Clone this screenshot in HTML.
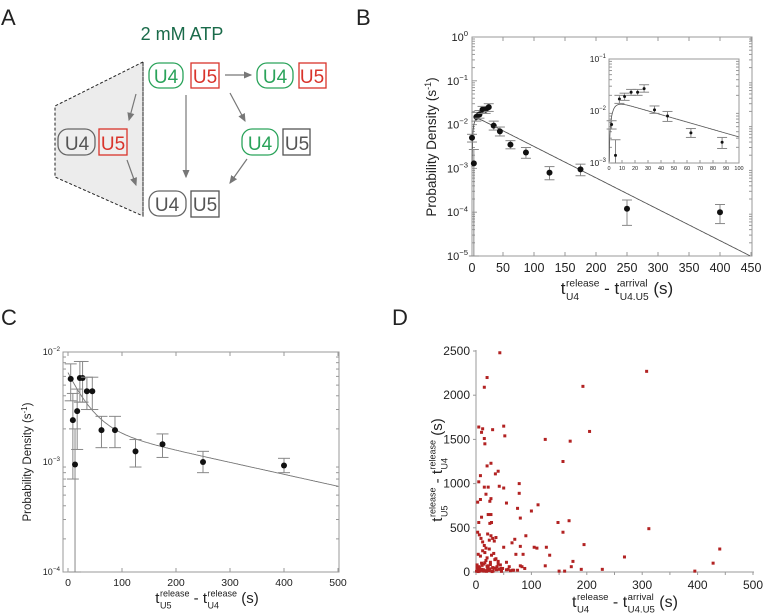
<!DOCTYPE html>
<html><head><meta charset="utf-8"><style>
html,body{margin:0;padding:0;background:#fff;}
svg{display:block;font-family:"Liberation Sans",Arial,sans-serif;}
</style></head><body>
<svg id="fig" width="764" height="613" viewBox="0 0 764 613" xmlns="http://www.w3.org/2000/svg">
<defs><marker id="ah" markerWidth="8" markerHeight="8" refX="6" refY="3" orient="auto"><path d="M0,0 L7,3 L0,6 z" fill="#777"/></marker></defs>
<text x="1" y="25" font-size="22" fill="#222">A</text>
<text x="356" y="25" font-size="22" fill="#222">B</text>
<text x="1" y="325" font-size="22" fill="#222">C</text>
<text x="392" y="325" font-size="22" fill="#222">D</text>
<g>
<text x="182" y="40" font-size="18" fill="#1a6b4a" text-anchor="middle">2 mM ATP</text>
<polygon points="143,62 55,106 55,177 143,216" fill="#ececec" stroke="#222" stroke-dasharray="3,2"/>
<line x1="143" y1="62" x2="143" y2="216" stroke="#222" stroke-dasharray="3,2"/>
<g font-size="19" text-anchor="middle">
<rect x="149" y="63" width="34" height="25" rx="10" fill="#fff" stroke="#2aa35a" stroke-width="1.3"/>
<text x="166" y="83" fill="#2aa35a">U4</text>
<rect x="191" y="63" width="28" height="25" fill="#fff" stroke="#d9342b" stroke-width="1.3"/>
<text x="205" y="83" fill="#d9342b">U5</text>
<rect x="257" y="63" width="36" height="25" rx="10" fill="#fff" stroke="#2aa35a" stroke-width="1.3"/>
<text x="275" y="83" fill="#2aa35a">U4</text>
<rect x="299" y="63" width="27" height="25" fill="#fff" stroke="#d9342b" stroke-width="1.3"/>
<text x="312" y="83" fill="#d9342b">U5</text>
<rect x="242" y="129" width="36" height="26" rx="10" fill="#fff" stroke="#2aa35a" stroke-width="1.3"/>
<text x="260" y="150" fill="#2aa35a">U4</text>
<rect x="283" y="129" width="27" height="26" fill="#fff" stroke="#555" stroke-width="1.3"/>
<text x="297" y="150" fill="#555">U5</text>
<rect x="58" y="129" width="37" height="26" rx="10" fill="#eee" stroke="#666" stroke-width="1.3"/>
<text x="77" y="150" fill="#555">U4</text>
<rect x="99" y="129" width="28" height="26" fill="#eee" stroke="#d9342b" stroke-width="1.3"/>
<text x="113" y="150" fill="#d9342b">U5</text>
<rect x="149" y="191" width="37" height="25" rx="10" fill="#fff" stroke="#666" stroke-width="1.3"/>
<text x="167" y="211" fill="#555">U4</text>
<rect x="191" y="191" width="28" height="26" fill="#fff" stroke="#555" stroke-width="1.3"/>
<text x="205" y="211" fill="#555">U5</text>
</g>
<g stroke="#777" stroke-width="1.2" marker-end="url(#ah)">
<line x1="225" y1="75" x2="251" y2="75"/>
<line x1="186" y1="95" x2="186" y2="177"/>
<line x1="230" y1="93" x2="245" y2="121"/>
<line x1="247" y1="159" x2="230" y2="183"/>
<line x1="136" y1="94" x2="129" y2="120"/>
<line x1="127" y1="160" x2="136" y2="185"/>
</g>
</g>
<g id="pb"></g>
<g id="pc"></g>
<g id="pd"></g>
</svg>
<script>
// ---- Panel B data ----
const bX = [0,3,7,12,17,22,27,35,45,62,87,125,175,250,400];
const bY = [5e-3,1.3e-3,1.5e-2,1.7e-2,2.2e-2,2.2e-2,2.5e-2,9.5e-3,7e-3,3.5e-3,2.3e-3,8e-4,9.5e-4,1.2e-4,1e-4];
const bLo = [4e-3,1e-5,1.2e-2,1.4e-2,1.8e-2,1.8e-2,2.0e-2,7.5e-3,5.5e-3,2.8e-3,1.7e-3,5.5e-4,6.8e-4,5e-5,5.5e-5];
const bHi = [6e-3,2.7e-3,1.9e-2,2.1e-2,2.6e-2,2.6e-2,3.0e-2,1.2e-2,8.8e-3,4.3e-3,3.0e-3,1.1e-3,1.25e-3,1.9e-4,1.5e-4];
const bXTicks = [0,50,100,150,200,250,300,350,400,450];
const bYTicks = [0,-1,-2,-3,-4,-5];
const bFit = [0.0165, 0.0165, 0.35];
const iX = [2,5,8,12,17,22,27,35,45,63,87];
const iY = [5.5e-3,1.4e-3,1.7e-2,1.9e-2,2.3e-2,2.3e-2,2.7e-2,1.05e-2,8e-3,3.8e-3,2.5e-3];
const iLo = [4.5e-3,1e-3,1.4e-2,1.6e-2,2.0e-2,2.0e-2,2.3e-2,9e-3,6.3e-3,3.1e-3,1.9e-3];
const iHi = [6.5e-3,2.8e-3,2.0e-2,2.2e-2,2.6e-2,2.6e-2,3.2e-2,1.25e-2,9.8e-3,4.6e-3,3.1e-3];
const iXTicks = [0,10,20,30,40,50,60,70,80,90,100];
// ---- Panel C data ----
const cX = [5,9,13,17,22,27,35,45,62,87,125,175,250,400];
const cY = [5.7e-3,2.4e-3,9.5e-4,2.9e-3,5.8e-3,5.8e-3,4.4e-3,4.4e-3,1.95e-3,1.95e-3,1.25e-3,1.45e-3,1e-3,9.3e-4];
const cLo = [3.6e-3,7e-4,1e-4,1.3e-3,3.5e-3,3.5e-3,3e-3,3e-3,1.35e-3,1.35e-3,9e-4,1.1e-3,8e-4,8e-4];
const cHi = [7.8e-3,4.2e-3,2e-3,4.6e-3,8.2e-3,8.2e-3,5.9e-3,5.9e-3,2.6e-3,2.6e-3,1.6e-3,1.8e-3,1.25e-3,1.08e-3];
const cXTicks = [0,100,200,300,400,500];
const cFit = [4.4e-3,32,2.1e-3,400];
// ---- Panel D data ----
const dX = [43,20,15,308,193,5,12,30,50,52,10,15,16,125,170,205,157,27,20,35,40,8,5,15,22,42,50,78,78,18,3,8,27,25,55,112,100,75,80,148,168,157,312,10,5,28,25,22,27,50,90,105,110,127,133,85,72,70,80,65,195,175,172,125,150,160,190,228,268,395,428,440,80,88,75,60,55,40,
 3,6,9,12,15,18,21,24,27,30,33,36,4,8,12,16,20,24,28,32,36,40,2,5,10,14,18,22,26,30,34,38,44,48,3,7,11,14,17,21,25,29,33,1,4,9,13,19,23,31,37,45,2,6,11,16,20,26,35,42,55,62,68,7,14,24,46,58,66,83];
const dY = [2480,2200,2090,2270,2100,1640,1620,1610,1650,1540,1580,1510,1450,1500,1480,1590,1250,1230,1200,1110,1140,1090,1020,960,960,970,950,1000,890,880,790,820,830,800,780,760,690,720,610,560,580,450,490,620,560,560,550,650,650,280,410,280,270,280,190,200,200,370,290,330,310,120,60,70,10,10,30,30,170,10,100,260,70,40,20,60,110,90,
 450,420,380,340,300,270,430,360,410,380,350,390,200,180,240,220,160,260,190,210,150,120,80,60,100,90,130,70,110,50,140,60,80,40,20,10,30,25,15,40,35,5,45,10,5,20,15,8,30,12,25,40,50,55,75,105,65,85,45,30,25,15,20,35,10,15,8,30,20,60];
const dXTicks = [0,100,200,300,400,500];
const dYTicks = [0,500,1000,1500,2000,2500];

const NS="http://www.w3.org/2000/svg";
function mk(parent,tag,attrs,text){const e=document.createElementNS(NS,tag);for(const k in attrs)e.setAttribute(k,attrs[k]);if(text!==undefined)e.textContent=text;parent.appendChild(e);return e;}

const xB=v=>472+v*(279/450), yB=v=>37+(-Math.log10(v))*43.8;
const xI=v=>609+v*1.30, yI=v=>59+(-1-Math.log10(v))*52;
const xC=v=>68+v*0.54, yC=v=>352+(-2-Math.log10(v))*110;
const xD=v=>476+v*0.554, yD=v=>572-v*0.0884;

function frame(g,x0,y0,x1,y1){mk(g,'rect',{x:x0,y:y0,width:x1-x0,height:y1-y0,fill:'none',stroke:'#999','stroke-width':1});}
function logMinor(g,x0,x1,yf,dec0,dec1){for(let d=dec0;d<dec1;d++){for(let m=2;m<=9;m++){const y=yf(m*Math.pow(10,d));mk(g,'line',{x1:x0,y1:y,x2:x0+3,y2:y,stroke:'#999'});mk(g,'line',{x1:x1,y1:y,x2:x1-3,y2:y,stroke:'#999'});}}}
function errs(g,xs,ys,lo,hi,xf,yf,cap,r,ymin){for(let i=0;i<xs.length;i++){const x=xf(xs[i]);const yl=Math.min(yf(lo[i]),ymin);
 const eb=mk(g,'g',{});
 
 
 mk(eb,'line',{x1:x,y1:yl,x2:x,y2:yf(hi[i]),stroke:'#888'});
 mk(eb,'line',{x1:x-cap,y1:yf(hi[i]),x2:x+cap,y2:yf(hi[i]),stroke:'#888'});
 mk(eb,'line',{x1:x-cap,y1:yl,x2:x+cap,y2:yl,stroke:'#888'});
 const c=mk(g,'circle',{cx:x,cy:yf(ys[i]),r:r,fill:'#111'});
 
 }}
function sup(g,x,y,base,exp,fs){const t=mk(g,'text',{x:x,y:y,'font-size':fs,'text-anchor':'end',fill:'#222'});mk(t,'tspan',{},base);mk(t,'tspan',{dy:-fs*0.45,'font-size':fs*0.7},exp);return t;}
// centered label: t_{b1}^{a1} - t_{b2}^{a2} (s)
function tlabel(g,cxCenter,y,fs,a1,b1,a2,b2){
 const grp=mk(g,'g',{});let cx=0;
 const put=(txt,size,dy)=>{const t=mk(grp,'text',{x:cx,y:y+dy,'font-size':size,fill:'#222'},txt);return t.getComputedTextLength();};
 cx+=put('t',fs,0)+0.5;
 cx+=Math.max(put(a1,fs*0.6,-fs*0.45),put(b1,fs*0.6,fs*0.35));
 cx+=put('\u00a0-\u00a0t',fs,0)+0.5;
 cx+=Math.max(put(a2,fs*0.6,-fs*0.45),put(b2,fs*0.6,fs*0.35));
 cx+=put('\u00a0(s)',fs,0);
 grp.setAttribute('transform','translate('+(cxCenter-cx/2)+',0)');
 return grp;}

// ---- Panel B ----
const pb=document.getElementById('pb');
frame(pb,472,37,752,256);
logMinor(pb,472,752,yB,-5,0);
bYTicks.forEach(e=>{const y=yB(Math.pow(10,e));mk(pb,'line',{x1:472,y1:y,x2:477,y2:y,stroke:'#999'});const t=sup(pb,468,y+4,'10',String(e).replace('-','−'),11);});
bXTicks.forEach(v=>{const x=xB(v);mk(pb,'line',{x1:x,y1:256,x2:x,y2:252,stroke:'#999'});mk(pb,'line',{x1:x,y1:37,x2:x,y2:41,stroke:'#999'});const t=mk(pb,'text',{x:x,y:272,'font-size':12.5,'text-anchor':'middle',fill:'#222'},v);});
{const yl=mk(pb,'text',{x:0,y:0,'font-size':13.5,'text-anchor':'middle',fill:'#222',transform:'translate(436,147) rotate(-90)'});mk(yl,'tspan',{},'Probability Density (s');mk(yl,'tspan',{dy:-5,'font-size':9},'-1');mk(yl,'tspan',{dy:5},')');
 }
{const t=tlabel(pb,617,294,17,'release','U4','arrival','U4.U5');}
function fitB(t){return bFit[0]*(Math.exp(-bFit[1]*t)-Math.exp(-bFit[2]*t));}
{let d='';for(let t=0.2;t<=450;t+=(t<20?0.2:2)){const v=Math.max(fitB(t),1e-5);d+=(d?'L':'M')+xB(t).toFixed(1)+','+yB(v).toFixed(1);}
 const p=mk(pb,'path',{d:d,fill:'none',stroke:'#555','stroke-width':0.9});}
errs(pb,bX,bY,bLo,bHi,xB,yB,5,3,256);
const ig=mk(pb,'g',{});


mk(ig,'rect',{x:609,y:59,width:130,height:104,fill:'#fff',stroke:'#999'});
logMinor(ig,609,739,yI,-3,-1);
[-1,-2,-3].forEach(e=>{const y=yI(Math.pow(10,e));sup(ig,606,y+3,'10',String(e).replace('-','−'),8.5);});
iXTicks.forEach(v=>{const x=xI(v);mk(ig,'line',{x1:x,y1:163,x2:x,y2:160,stroke:'#999'});mk(ig,'text',{x:x,y:170,'font-size':5.5,'text-anchor':'middle',fill:'#222'},v);});
{let d='';for(let t=0.2;t<=100;t+=0.3){const v=Math.max(fitB(t),1e-3);d+=(d?'L':'M')+xI(t).toFixed(1)+','+yI(v).toFixed(1);}mk(ig,'path',{d:d,fill:'none',stroke:'#555','stroke-width':0.8});}
errs(ig,iX,iY,iLo,iHi,xI,yI,5,1.5,163);

// ---- Panel C ----
const pc=document.getElementById('pc');
frame(pc,63,352,339,572);
logMinor(pc,63,339,yC,-4,-2);
[-2,-3,-4].forEach(e=>{const y=yC(Math.pow(10,e));const t=sup(pc,60,y+3,'10',String(e).replace('-','−'),9);});
cXTicks.forEach(v=>{const x=xC(v);mk(pc,'line',{x1:x,y1:572,x2:x,y2:568,stroke:'#999'});mk(pc,'line',{x1:x,y1:352,x2:x,y2:356,stroke:'#999'});const t=mk(pc,'text',{x:x,y:586,'font-size':10.5,'text-anchor':'middle',fill:'#222'},v);});
{const yl=mk(pc,'text',{x:0,y:0,'font-size':11.5,'text-anchor':'middle',fill:'#222',transform:'translate(31,462) rotate(-90)'});mk(yl,'tspan',{},'Probability Density (s');mk(yl,'tspan',{dy:-4,'font-size':8},'-1');mk(yl,'tspan',{dy:4},')');
 }
{const t=tlabel(pc,207,603,15,'release','U5','release','U4');}
{let d='';for(let t=0;t<=500;t+=2){const v=cFit[0]*Math.exp(-t/cFit[1])+cFit[2]*Math.exp(-t/cFit[3]);d+=(d?'L':'M')+xC(t).toFixed(1)+','+yC(v).toFixed(1);}
 const p=mk(pc,'path',{d:d,fill:'none',stroke:'#777','stroke-width':0.9});}
errs(pc,cX,cY,cLo,cHi,xC,yC,6,3,572);

// ---- Panel D ----
const pd=document.getElementById('pd');
mk(pd,'line',{x1:476,y1:350,x2:476,y2:573,stroke:'#bbb','stroke-width':1.5});
mk(pd,'line',{x1:475,y1:572,x2:754,y2:572,stroke:'#bbb','stroke-width':1.5});
dYTicks.forEach(v=>{const y=yD(v);mk(pd,'line',{x1:473,y1:y,x2:476,y2:y,stroke:'#999'});const t=mk(pd,'text',{x:470,y:y+4,'font-size':12,'text-anchor':'end',fill:'#222'},v);});
for(let v=0;v<=500;v+=50){const x=xD(v);mk(pd,'line',{x1:x,y1:572,x2:x,y2:575,stroke:'#999'});}
dXTicks.forEach(v=>{const x=xD(v);const t=mk(pd,'text',{x:x,y:589,'font-size':12,'text-anchor':'middle',fill:'#222'},v);});
{const t=tlabel(pd,625,607,16,'release','U4','arrival','U4.U5');}
{const g=mk(pd,'g',{transform:'translate(437,470) rotate(-90)'});const t=tlabel(g,0,5,15,'release','U5','release','U4');}
const nD=Math.min(dX.length,dY.length);
for(let i=0;i<nD;i++){const r=mk(pd,'rect',{x:xD(dX[i])-1.5,y:yD(dY[i])-1.5,width:3,height:3,fill:'#b22222'});
 
 }
</script>
</body></html>
